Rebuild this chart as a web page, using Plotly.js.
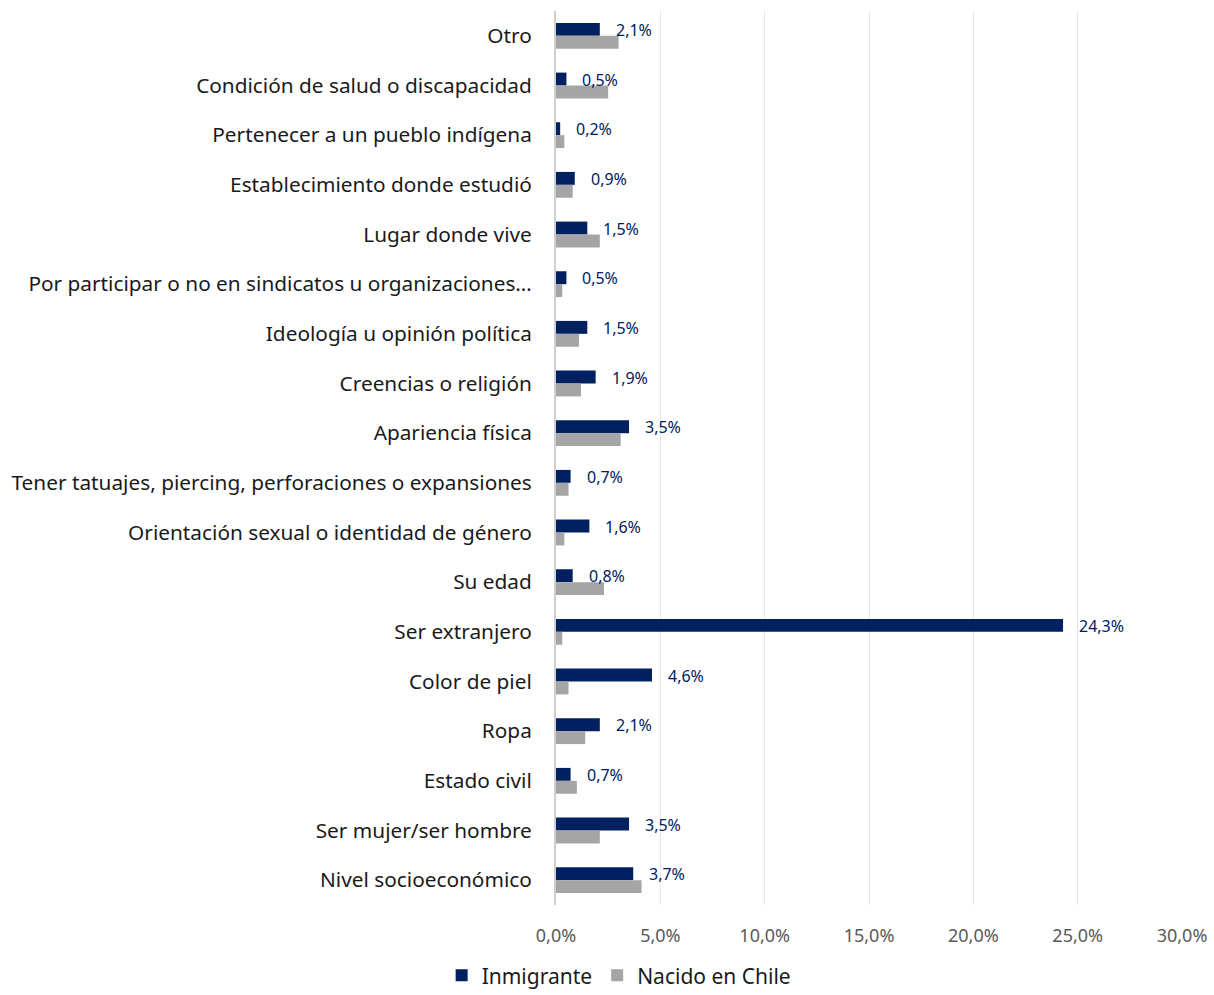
<!DOCTYPE html>
<html><head><meta charset="utf-8">
<script src="https://cdn.plot.ly/plotly-3.0.1.min.js"></script>
<style>html,body{margin:0;padding:0;background:#fff}#chart{width:1214px;height:995px}</style>
</head><body><div id="chart"></div>
<script>
const categories = ["Otro","Condición de salud o discapacidad","Pertenecer a un pueblo indígena","Establecimiento donde estudió","Lugar donde vive","Por participar o no en sindicatos u organizaciones…","Ideología u opinión política","Creencias o religión","Apariencia física","Tener tatuajes, piercing, perforaciones o expansiones","Orientación sexual o identidad de género","Su edad","Ser extranjero","Color de piel","Ropa","Estado civil","Ser mujer/ser hombre","Nivel socioeconómico"];
const inmigrante = [2.1,0.5,0.2,0.9,1.5,0.5,1.5,1.9,3.5,0.7,1.6,0.8,24.3,4.6,2.1,0.7,3.5,3.7];
const nacidoChile = [3.0,2.5,0.4,0.8,2.1,0.3,1.1,1.2,3.1,0.6,0.4,2.3,0.3,0.6,1.4,1.0,2.1,4.1];
const tickVals = [0,5,10,15,20,25,30];
const tickText = ["0,0%","5,0%","10,0%","15,0%","20,0%","25,0%","30,0%"];

const font = "Noto Sans, sans-serif";
const traces = [
  {type:'bar', orientation:'h', name:'Inmigrante', y:categories, x:inmigrante, marker:{color:'#002060'}, hoverinfo:'skip'},
  {type:'bar', orientation:'h', name:'Nacido en Chile', y:categories, x:nacidoChile, marker:{color:'#a5a5a5'}, hoverinfo:'skip'}
];
const annotations = categories.map((c,i)=>({
  x: inmigrante[i], y: c, xref:'x', yref:'y', xanchor:'left', yanchor:'middle',
  xshift: 14, yshift: 6, showarrow:false,
  text: inmigrante[i].toFixed(1).replace('.',',') + '%',
  font:{family:font, size:16, color:'#002060'}
}));
const layout = {
  width:1214, height:995,
  margin:{l:556, r:32, t:11, b:90},
  paper_bgcolor:'#fff', plot_bgcolor:'#fff',
  barmode:'group', bargap:0.48, bargroupgap:0,
  font:{family:font},
  xaxis:{range:[0,30], tickvals:tickVals, ticktext:tickText, showgrid:true, gridcolor:'#e6e6e6', gridwidth:1,
         zeroline:false, showline:false, ticks:'', tickfont:{family:font, size:18, color:'#595959'}, ticklabelstandoff:18, fixedrange:true},
  yaxis:{type:'category', autorange:'reversed', showline:true, linecolor:'#d0d0d0', linewidth:2, ticks:'',
         tickfont:{family:font, size:20.8, color:'#1a1a1a'}, ticklabelstandoff:18, fixedrange:true},
  showlegend:true,
  legend:{orientation:'h', x:0.51, xanchor:'center', xref:'container', y:0.04, yanchor:'top', yref:'container',
          font:{family:font, size:21, color:'#1a1a1a'}, itemwidth:30, traceorder:'normal'},
  annotations: annotations
};
Plotly.newPlot('chart', traces, layout, {displayModeBar:false, staticPlot:true});
</script></body></html>
